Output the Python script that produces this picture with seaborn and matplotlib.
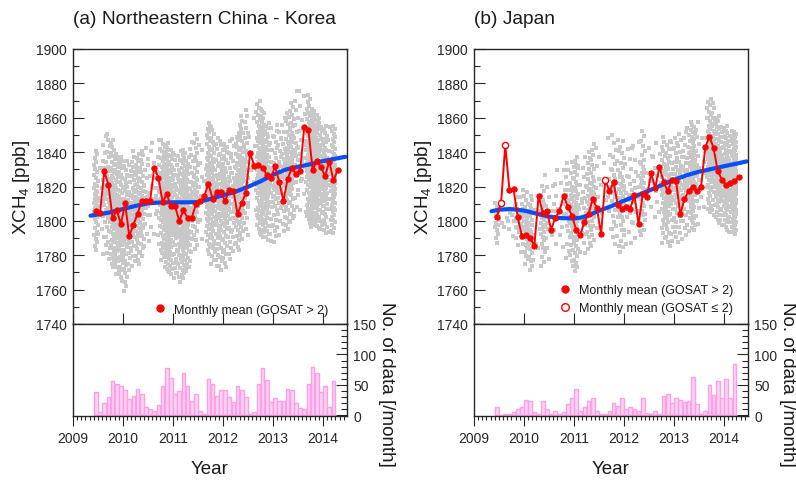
import numpy as np
import pandas as pd
import matplotlib
matplotlib.use("Agg")
import matplotlib.pyplot as plt
from matplotlib.lines import Line2D
from matplotlib.ticker import MultipleLocator
import seaborn as sns

# ------------------------------------------------------------------ data
titles = ["(a) Northeastern China - Korea", "(b) Japan"]
year_ticks = [2009, 2010, 2011, 2012, 2013, 2014]
year_labels = ["2009", "2010", "2011", "2012", "2013", "2014"]
xch4_ticks = [1740, 1760, 1780, 1800, 1820, 1840, 1860, 1880, 1900]
count_ticks = [0, 50, 100, 150]

mean_months = pd.period_range("2009-06", "2014-04", freq="M")   # monthly means
count_months = pd.period_range("2009-06", "2014-03", freq="M")  # monthly data counts

# monthly mean XCH4 [ppb]
xch4_a = [1805.9, 1804.6, 1828.8, 1820.9, 1801.5, 1806.2, 1798.0, 1810.2, 1791.2, 1797.6,
          1804.2, 1811.6, 1811.7, 1811.6, 1830.9, 1825.1, 1811.0, 1815.5, 1808.5, 1808.5,
          1799.9, 1806.2, 1801.7, 1801.7, 1810.0, 1811.4, 1814.3, 1821.6, 1812.9, 1816.6,
          1816.8, 1811.4, 1818.0, 1817.6, 1803.8, 1810.4, 1816.4, 1839.5, 1832.1, 1832.5,
          1830.9, 1826.9, 1824.8, 1831.8, 1822.8, 1811.4, 1824.4, 1830.6, 1827.3, 1828.8,
          1854.6, 1853.0, 1829.8, 1834.7, 1831.2, 1826.1, 1834.5, 1823.6, 1829.4]
xch4_b = [1802.4, 1810.4, 1844.1, 1818.0, 1818.4, 1802.1, 1791.0, 1791.8, 1789.8, 1785.6,
          1814.7, 1804.8, 1805.7, 1794.9, 1801.7, 1805.6, 1814.7, 1808.2, 1803.0, 1794.9,
          1791.6, 1799.5, 1804.0, 1812.9, 1807.3, 1792.2, 1823.8, 1817.2, 1822.4, 1809.2,
          1806.7, 1808.2, 1807.1, 1814.9, 1798.0, 1815.8, 1814.1, 1827.7, 1819.1, 1831.5,
          1822.8, 1817.2, 1824.0, 1823.0, 1803.8, 1812.6, 1817.4, 1819.5, 1817.4, 1819.9,
          1842.8, 1849.0, 1842.4, 1829.0, 1824.0, 1820.7, 1821.9, 1823.2, 1825.3]
# months whose mean rests on two or fewer GOSAT soundings
few_data_a = []
few_data_b = [1, 2, 26]

# number of GOSAT data per month
ndata_a = [38, 5, 20, 31, 56, 51, 49, 41, 27, 32,
           43, 35, 13, 10, 7, 17, 48, 77, 61, 35,
           40, 69, 49, 24, 35, 8, 3, 59, 51, 32,
           41, 42, 30, 22, 48, 41, 31, 3, 5, 51,
           78, 58, 22, 28, 23, 24, 43, 42, 20, 12,
           10, 52, 79, 70, 38, 48, 13, 56]
ndata_b = [13, 1, 2, 3, 5, 11, 13, 26, 24, 5,
           3, 24, 11, 3, 8, 3, 6, 19, 28, 44,
           7, 14, 24, 28, 7, 3, 2, 8, 21, 15,
           28, 10, 13, 10, 7, 29, 4, 3, 8, 3,
           32, 35, 20, 29, 26, 22, 23, 63, 19, 3,
           7, 50, 33, 56, 28, 59, 28, 85]

# spread of individual soundings per month (lowest / highest XCH4, ppb)
cloud_lo_a = [1782, 1785, 1778, 1776, 1772, 1768, 1764,
              1758, 1770, 1772, 1774, 1778, 1782, 1784, 1786, 1784, 1776, 1770, 1768,
              1765, 1763, 1766, 1770, 1780, 1782, 1784, 1790, 1780, 1774, 1772, 1770,
              1772, 1776, 1780, 1782, 1788, 1790, 1795, 1796, 1792, 1790, 1788, 1786,
              1786, 1790, 1792, 1794, 1798, 1800, 1802, 1800, 1798, 1796, 1795, 1794,
              1792, 1790, 1792]
cloud_hi_a = [1842, 1838, 1852, 1852, 1848, 1840, 1838,
              1836, 1834, 1842, 1840, 1842, 1846, 1845, 1852, 1850, 1848, 1846, 1842,
              1840, 1842, 1842, 1838, 1848, 1852, 1850, 1856, 1858, 1856, 1850, 1848,
              1846, 1848, 1850, 1852, 1862, 1866, 1864, 1870, 1871, 1866, 1858, 1856,
              1854, 1858, 1862, 1864, 1870, 1878, 1880, 1878, 1874, 1866, 1862, 1858,
              1856, 1858, 1856]
cloud_lo_b = [1786, 1790, 1792, 1792, 1788, 1784, 1780,
              1774, 1770, 1772, 1776, 1772, 1774, 1780, 1782, 1780, 1778, 1776, 1772,
              1770, 1776, 1778, 1782, 1784, 1790, 1792, 1794, 1790, 1784, 1782, 1780,
              1782, 1784, 1786, 1788, 1790, 1794, 1796, 1798, 1792, 1786, 1784, 1786,
              1786, 1788, 1790, 1792, 1794, 1796, 1800, 1802, 1804, 1802, 1798, 1796,
              1794, 1792, 1792]
cloud_hi_b = [1812, 1808, 1806, 1808, 1812, 1816, 1820,
              1818, 1816, 1812, 1814, 1822, 1830, 1832, 1834, 1834, 1836, 1836, 1836,
              1838, 1838, 1840, 1842, 1846, 1848, 1850, 1852, 1854, 1852, 1850, 1848,
              1846, 1846, 1848, 1852, 1854, 1852, 1850, 1850, 1852, 1850, 1848, 1848,
              1850, 1852, 1854, 1856, 1858, 1860, 1862, 1866, 1872, 1870, 1862, 1856,
              1856, 1854, 1852]

# smoothed long-term trend
trend_years_a = [2009.35, 2009.75, 2010.0, 2010.25, 2010.5, 2010.75, 2011.0, 2011.25, 2011.5,
                 2011.75, 2012.0, 2012.25, 2012.5, 2012.75, 2013.0, 2013.25, 2013.5, 2013.75,
                 2014.0, 2014.25, 2014.45]
trend_a = [1803.0, 1805.0, 1806.9, 1808.7, 1810.2, 1810.7, 1810.8, 1810.8, 1810.9,
           1812.8, 1814.9, 1817.0, 1819.8, 1823.0, 1826.8, 1829.8, 1831.5, 1833.0,
           1834.8, 1836.2, 1837.3]
trend_years_b = [2009.35, 2009.5, 2009.72, 2010.0, 2010.25, 2010.5, 2010.75, 2011.0, 2011.15,
                 2011.3, 2011.5, 2011.75, 2012.0, 2012.25, 2012.5, 2012.75, 2013.0, 2013.25,
                 2013.5, 2013.75, 2014.0, 2014.25, 2014.45]
trend_b = [1805.6, 1806.5, 1806.9, 1806.0, 1804.2, 1802.5, 1801.6, 1801.4, 1802.0,
           1803.3, 1805.9, 1808.6, 1811.8, 1814.6, 1817.6, 1820.8, 1823.9, 1826.5,
           1828.6, 1830.2, 1831.8, 1833.3, 1834.6]

# ------------------------------------------------------------------ helpers
def decimal_year(periods, offset=0.5):
    return np.array([p.year + (p.month - 1 + offset) / 12.0 for p in periods])


def sounding_table(periods, lo, hi, counts):
    """Lay each month's soundings out across the month and its XCH4 spread."""
    xs, ys = [], []
    phase = 0.0
    for p, a, b, n in zip(periods, lo, hi, counts):
        t0 = p.year + (p.month - 1) / 12.0
        for k in range(n):
            u = (k + 0.5) / n
            v = u + 0.4 * np.sin(2 * np.pi * u) / (2 * np.pi)
            phase = (phase + 0.6180339887) % 1.0
            xs.append(t0 + phase / 12.0)
            ys.append(a + (b - a) * v)
    return pd.DataFrame({"year": xs, "xch4": ys})


# ------------------------------------------------------------------ style
sns.set_theme(style="ticks")
plt.rcParams["font.family"] = ["Liberation Sans", "DejaVu Sans"]
plt.rcParams["mathtext.fontset"] = "custom"
plt.rcParams["mathtext.rm"] = "Liberation Sans"
plt.rcParams["mathtext.it"] = "Liberation Sans:italic"
plt.rcParams["axes.edgecolor"] = "#262626"
plt.rcParams["axes.linewidth"] = 1.0
plt.rcParams["xtick.color"] = "#262626"
plt.rcParams["ytick.color"] = "#262626"
plt.rcParams["text.color"] = "#1a1a1a"

W, H = 796, 481
fig = plt.figure(figsize=(W / 100, H / 100), dpi=100)


def box(x0, y0, x1, y1):
    return [x0 / W, 1 - y1 / H, (x1 - x0) / W, (y1 - y0) / H]


panels = [
    dict(x0=73, title=titles[0], xch4=xch4_a, few=few_data_a, ndata=ndata_a,
         lo=cloud_lo_a, hi=cloud_hi_a, ty=trend_years_a, tv=trend_a,
         legend_anchor=(0.932, 0.03)),
    dict(x0=474, title=titles[1], xch4=xch4_b, few=few_data_b, ndata=ndata_b,
         lo=cloud_lo_b, hi=cloud_hi_b, ty=trend_years_b, tv=trend_b,
         legend_anchor=(0.945, 0.035)),
]

mean_x = decimal_year(mean_months)
count_x = decimal_year(count_months)

for i, P in enumerate(panels):
    x0 = P["x0"]
    x1 = x0 + 274
    top = fig.add_axes(box(x0, 50, x1, 325))
    bot = fig.add_axes(box(x0, 325, x1, 417))

    # individual soundings
    cloud = sounding_table(count_months, P["lo"], P["hi"], P["ndata"])
    sns.scatterplot(data=cloud, x="year", y="xch4", ax=top, marker="s", s=6.5,
                    color="#c8c8c8", linewidth=0, legend=False, zorder=1)
    # trend
    trend_df = pd.DataFrame({"year": P["ty"], "xch4": P["tv"]})
    sns.lineplot(data=trend_df, x="year", y="xch4", ax=top, color="#0c4ef5",
                 linewidth=3.0, zorder=2)
    # monthly means
    mean_df = pd.DataFrame({"year": mean_x, "xch4": P["xch4"]})
    sns.lineplot(data=mean_df, x="year", y="xch4", ax=top, color="#ff0000",
                 linewidth=1.4, marker="o", markersize=3.8, markeredgecolor="#ff0000",
                 markerfacecolor="#ff0000", zorder=3)
    if P["few"]:
        few_df = mean_df.iloc[P["few"]]
        sns.scatterplot(data=few_df, x="year", y="xch4", ax=top, marker="o", s=20,
                        color="white", edgecolor="#ff0000", linewidth=1.0, zorder=4,
                        legend=False)

    top.set_xlim(2009, 2014.48)
    top.set_ylim(1740, 1900)
    top.set_yticks(xch4_ticks)
    top.set_yticklabels([str(v) for v in xch4_ticks])
    top.yaxis.set_minor_locator(MultipleLocator(10))
    top.set_xticks(year_ticks)
    top.tick_params(axis="y", which="major", direction="in", length=8, width=0.8,
                    labelsize=10, pad=4.5, left=True, right=False)
    top.tick_params(axis="y", which="minor", direction="in", length=4, width=0.8,
                    left=True, right=False)
    top.tick_params(axis="x", which="major", direction="in", length=8, width=0.8,
                    bottom=True, top=False, labelbottom=False)
    top.tick_params(axis="x", which="minor", bottom=False, top=False)
    top.set_xlabel("")
    top.set_ylabel("")

    handles = [Line2D([], [], ls="none", marker="o", markersize=5,
                      markerfacecolor="#ff0000", markeredgecolor="#ff0000")]
    labels = ["Monthly mean (GOSAT > 2)"]
    if P["few"]:
        handles.append(Line2D([], [], ls="none", marker="o", markersize=5.5,
                              markerfacecolor="white", markeredgecolor="#ff0000",
                              markeredgewidth=1.0))
        labels.append("Monthly mean (GOSAT \u2264 2)")
    top.legend(handles, labels, loc="lower right", bbox_to_anchor=P["legend_anchor"],
               frameon=False, fontsize=9, handlelength=1.2, handletextpad=0.5,
               borderpad=0, borderaxespad=0, labelspacing=0.5)

    # monthly data counts
    count_df = pd.DataFrame({"year": count_x, "n": P["ndata"]})
    sns.barplot(data=count_df, x="year", y="n", native_scale=True, width=0.92,
                ax=bot, color="#ffd3f3", saturation=1.0, edgecolor="#ff9fe4",
                linewidth=1.0, errorbar=None, zorder=2)
    bot.set_xlim(2009, 2014.48)
    bot.set_ylim(-1, 150)
    bot.yaxis.tick_right()
    bot.set_yticks(count_ticks)
    bot.set_yticklabels([str(v) for v in count_ticks])
    bot.yaxis.set_minor_locator(MultipleLocator(10))
    bot.tick_params(axis="y", which="major", direction="in", length=8, width=0.8,
                    labelsize=10, pad=4.5, left=False, right=True,
                    labelleft=False, labelright=True)
    bot.tick_params(axis="y", which="minor", direction="in", length=4, width=0.8,
                    left=False, right=True)
    bot.set_xticks(year_ticks)
    bot.set_xticklabels(year_labels)
    bot.xaxis.set_minor_locator(MultipleLocator(1 / 12))
    bot.tick_params(axis="x", which="major", direction="out", length=7, width=0.8,
                    labelsize=10, pad=4, bottom=True, top=False)
    bot.tick_params(axis="x", which="minor", direction="out", length=3, width=0.8,
                    bottom=True, top=False)
    bot.set_xlabel("")
    bot.set_ylabel("")

    for ax in (top, bot):
        for s in ax.spines.values():
            s.set_visible(True)
            s.set_linewidth(1.0)

    # labels
    fig.text(x0 / W, 1 - 20 / H, P["title"], ha="left", va="center", fontsize=13.8)
    fig.text((x0 - 51) / W, 1 - 187.5 / H, r"XCH$_\mathregular{4}$ [ppb]",
             rotation=90, ha="center", va="center", fontsize=13.5)
    fig.text((x0 + 313.5) / W, 1 - 384 / H, "No. of data [/month]",
             rotation=270, ha="center", va="center", fontsize=13.5)
    fig.text((x0 + 137) / W, 1 - 470 / H, "Year", ha="center", va="center",
             fontsize=13.5)

fig.savefig("out.png", dpi=100)
